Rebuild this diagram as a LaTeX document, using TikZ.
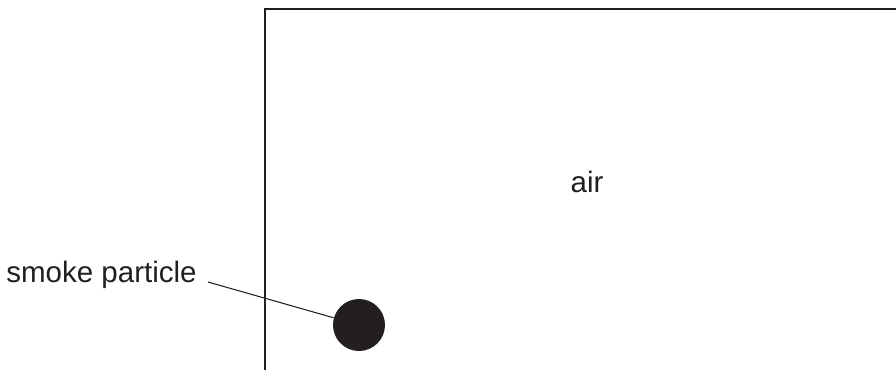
\documentclass[tikz,border=0pt]{standalone}
\usepackage{xcolor}
\usepackage{fontspec}
\setmainfont{Liberation Sans}
\usepackage{tikz}
\usetikzlibrary{positioning}
\definecolor{ink}{HTML}{231F20}

\begin{document}
\begin{tikzpicture}[
  wall/.style  = {draw=ink, line width=1.3pt},
  lbl/.style   = {text=ink, font=\fontsize{16.8}{19}\selectfont},
  blob/.style  = {circle, fill=ink, inner sep=0pt, minimum size=1.04cm},
  lead/.style  = {draw=ink, line width=0.6pt}
]
  \useasboundingbox (0,0) rectangle (17.92,7.38);

  % container
  \draw[wall] (5.30,-0.2) |- (18.2,7.20);

  \node[lbl] (air) at (11.74,3.75) {air};
  \node[blob] (particle) at (7.18,0.88) {};
  \node[lbl, anchor=base east, inner xsep=0.22cm] (smoke) at (4.16,1.74) {smoke particle};

  \draw[lead] (smoke.base east) -- (particle);
\end{tikzpicture}
\end{document}
